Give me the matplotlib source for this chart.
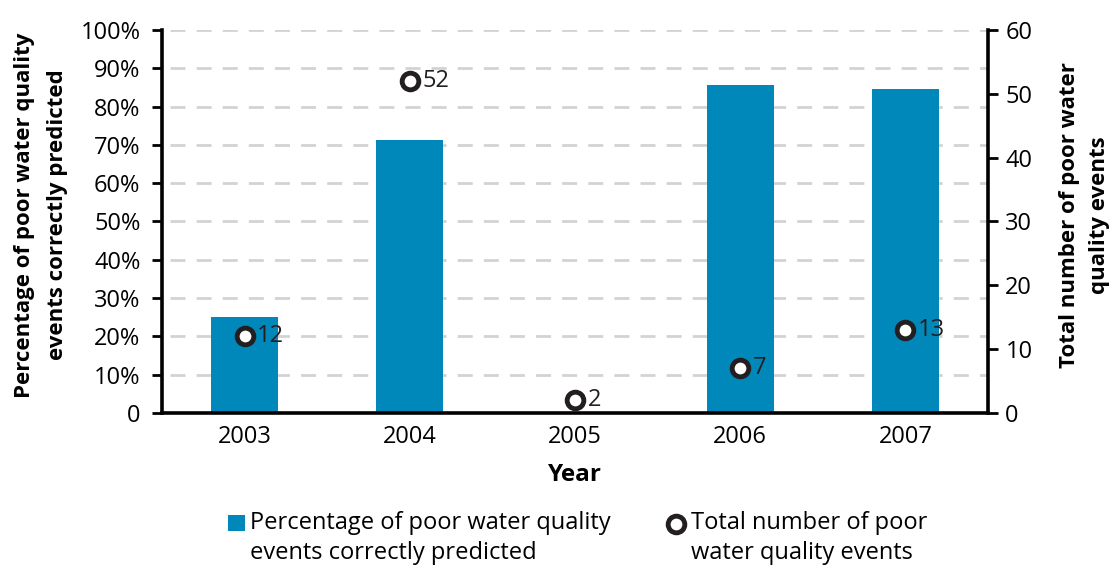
import numpy as np
import matplotlib.pyplot as plt
from matplotlib.ticker import FixedLocator, FuncFormatter
from matplotlib.lines import Line2D
from matplotlib.patches import Rectangle

years = ["2003", "2004", "2005", "2006", "2007"]
pct_correct = [25.0, 71.2, 0.0, 85.7, 84.6]
total_events = [12, 52, 2, 7, 13]

bar_color = "#0088bb"
dark = "#231f20"

plt.rcParams["font.family"] = ["Open Sans", "DejaVu Sans"]
plt.rcParams["font.size"] = 17

fig = plt.figure(figsize=(11.15, 5.68), dpi=100)
ax = fig.add_axes([0.1453, 0.2729, 0.7408, 0.6743])
x = np.arange(len(years))

# bars: share of events predicted correctly (left axis)
ax.bar(x, pct_correct, width=0.405, color=bar_color, zorder=2)
ax.set_xlim(-0.5, 4.5)
ax.set_ylim(0, 100)
ax.yaxis.set_major_locator(FixedLocator(np.arange(0, 101, 10)))
ax.yaxis.set_major_formatter(FuncFormatter(lambda v, p: "0" if v == 0 else f"{v:.0f}%"))
ax.set_xticks(x)
ax.set_xticklabels(years)
ax.tick_params(axis="x", length=0, pad=9, labelsize=17)
ax.tick_params(axis="y", length=7.5, width=2, direction="out", pad=8, labelsize=17)
for g in np.arange(10, 101, 10):
    ax.axhline(g, color="#d3d3d3", lw=2, dashes=(5.4, 4), zorder=1, xmin=0.01)
ax.spines["top"].set_visible(False)
ax.spines["right"].set_visible(False)
for s in ("left", "bottom"):
    ax.spines[s].set_linewidth(2.6)
ax.set_xlabel("Year", fontweight="bold", fontsize=17.5, labelpad=10)

# open circles: total number of events (right axis)
ax2 = ax.twinx()
ax2.set_ylim(0, 60)
ax2.yaxis.set_major_locator(FixedLocator(np.arange(0, 61, 10)))
ax2.plot(x, total_events, linestyle="none", marker="o", markersize=12,
         markerfacecolor="white", markeredgecolor=dark, markeredgewidth=3.5, zorder=3)
for xi, v in zip(x, total_events):
    ax2.annotate(str(v), (xi, v), xytext=(9, 0), textcoords="offset points",
                 ha="left", va="center", fontsize=17, color=dark)
ax2.tick_params(axis="y", length=7.5, width=2, direction="out", pad=5, labelsize=17)
for s in ("top", "left", "bottom"):
    ax2.spines[s].set_visible(False)
ax2.spines["right"].set_linewidth(2.6)

fig.text(0.0372, 0.6215, "Percentage of poor water quality\nevents correctly predicted",
         rotation=90, ha="center", va="center", fontweight="bold", fontsize=16,
         linespacing=1.75, multialignment="center")
fig.text(0.9725, 0.6215, "Total number of poor water\nquality events",
         rotation=90, ha="center", va="center", fontweight="bold", fontsize=16,
         linespacing=1.6, multialignment="center")

# legend keys and text below the plot
fig.patches.append(Rectangle((228 / 1115, 1 - 531 / 568), 17 / 1115, 16 / 568,
                             transform=fig.transFigure, facecolor=bar_color,
                             edgecolor="none"))
fig.lines.append(Line2D([676 / 1115], [1 - 524 / 568], transform=fig.transFigure,
                        linestyle="none", marker="o", markersize=12,
                        markerfacecolor="white", markeredgecolor=dark,
                        markeredgewidth=3.5))
fig.text(250 / 1115, 1 - 538 / 568, "Percentage of poor water quality\nevents correctly predicted",
         ha="left", va="center", fontsize=17, linespacing=1.3)
fig.text(691 / 1115, 1 - 538 / 568, "Total number of poor\nwater quality events",
         ha="left", va="center", fontsize=17, linespacing=1.3)

fig.savefig("out.png", dpi=100)
